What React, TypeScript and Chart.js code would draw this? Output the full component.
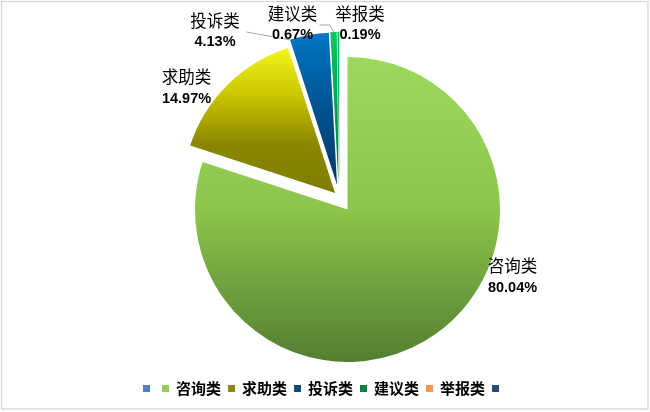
import { useEffect, useRef } from 'react';
import { Chart, registerables } from 'chart.js';

Chart.register(...registerables);

// ---- data ----
const categories = ['', '咨询类', '求助类', '投诉类', '建议类', '举报类', ''];
const shares = [0, 80.04, 14.97, 4.13, 0.67, 0.19, 0];
const shareLabels = ['', '80.04%', '14.97%', '4.13%', '0.67%', '0.19%', ''];

// ---- styles ----
const legendColors = ['#4f81bd', '#92d050', '#8c8a00', '#0f4c87', '#00843f', '#f79646', '#2c4d7a'];
const sliceGradients: string[][] = [
  ['#4f81bd', '#4f81bd'],
  ['#9cd95d', '#8cc54b', '#547e30'],
  ['#f4f41a', '#c9c400', '#8a8600', '#7f7e00'],
  ['#0076c6', '#00538f', '#00386a'],
  ['#14c464', '#00a050', '#006b34'],
  ['#14c464', '#00a050', '#006b34'],
  ['#2c4d7a', '#2c4d7a'],
];
// explosion distance (px) and direction tilt (deg) relative to slice bisector
const explode = [0, 0, 20.7, 26.7, 26.6, 26.6, 0];
const explodeTilt = [0, 0, 8, -12.5, -17.8, -17.8, 0];
// label anchor (centre of first line) relative to pie centre
const labelOffsets: (number[] | null)[] = [null, [165, 56.5], [-161, -132.5], [-132.5, -189], [-55, -196], [12.5, -196], null];
const LINE_GAP = 21.5;

function sectorYRange(cy: number, r: number, a0: number, a1: number) {
  let top = cy, bottom = cy;
  const ys = [cy + r * Math.sin(a0), cy + r * Math.sin(a1)];
  ys.forEach((y) => { top = Math.min(top, y); bottom = Math.max(bottom, y); });
  const within = (a: number) => {
    for (let k = -2; k <= 2; k++) {
      const t = a + k * 2 * Math.PI;
      if (t >= a0 && t <= a1) return true;
    }
    return false;
  };
  if (within(-Math.PI / 2)) top = cy - r;
  if (within(Math.PI / 2)) bottom = cy + r;
  return [top, bottom];
}

function shift(arc: any, i: number) {
  const half = (arc.startAngle + arc.endAngle) / 2 + ((explodeTilt[i] || 0) * Math.PI) / 180;
  const d = explode[i] || 0;
  return [Math.cos(half) * d, Math.sin(half) * d];
}

const piePlugin = {
  id: 'piePlugin',
  beforeDatasetDraw(chart: any, args: any) {
    const ctx = chart.ctx;
    const meta = chart.getDatasetMeta(args.index);
    meta.data.forEach((arc: any, i: number) => {
      const { y, startAngle, endAngle, outerRadius } = arc;
      if (endAngle - startAngle <= 0) return;
      const [top, bottom] = sectorYRange(y, outerRadius, startAngle, endAngle);
      const g = ctx.createLinearGradient(0, top, 0, bottom);
      const cols = sliceGradients[i];
      cols.forEach((c, k) => g.addColorStop(k / (cols.length - 1), c));
      arc.options = Object.assign({}, arc.options, { backgroundColor: g, borderWidth: 0 });
      const [dx, dy] = shift(arc, i);
      ctx.save();
      ctx.translate(dx, dy);
      arc.draw(ctx);
      ctx.restore();
    });
    return false;
  },
  afterDraw(chart: any) {
    const ctx = chart.ctx;
    const meta = chart.getDatasetMeta(0);
    const a0 = meta.data[0];
    const cx = a0.x, cy = a0.y;

    const arcPoint = (i: number, ang: number) => {
      const arc = meta.data[i];
      const [dx, dy] = shift(arc, i);
      return [arc.x + dx + Math.cos(ang) * arc.outerRadius, arc.y + dy + Math.sin(ang) * arc.outerRadius];
    };

    // leader lines
    ctx.save();
    ctx.strokeStyle = '#a6a6a6';
    ctx.lineWidth = 1;
    {
      const p = arcPoint(3, meta.data[3].startAngle);
      ctx.beginPath();
      ctx.moveTo(cx - 101, cy - 177.5);
      ctx.lineTo(p[0], p[1]);
      ctx.stroke();
    }
    {
      const arc = meta.data[4];
      const p = arcPoint(4, (arc.startAngle + arc.endAngle) / 2);
      const sy = cy - 184.5;
      ctx.beginPath();
      ctx.moveTo(cx - 28, sy);
      ctx.lineTo(p[0] - 4, sy);
      ctx.lineTo(p[0], p[1]);
      ctx.stroke();
    }
    ctx.restore();

    // data labels
    ctx.save();
    ctx.textAlign = 'center';
    ctx.textBaseline = 'middle';
    ctx.fillStyle = '#000000';
    categories.forEach((c, i) => {
      const off = labelOffsets[i];
      if (!off || !c) return;
      const lx = cx + off[0];
      const ly = cy + off[1];
      ctx.font = '16.5px "Noto Sans CJK SC"';
      ctx.fillText(c, lx, ly);
      ctx.font = 'bold 14.5px "Liberation Sans"';
      ctx.fillText(shareLabels[i], lx, ly + LINE_GAP);
    });
    ctx.restore();

    // legend
    ctx.save();
    ctx.font = 'bold 15px "Noto Sans CJK SC"';
    ctx.textBaseline = 'middle';
    ctx.textAlign = 'left';
    const box = 7, gap = 7, blankPitch = 19;
    const widths = categories.map((c, i) => {
      if (!c) return i === categories.length - 1 ? box : blankPitch;
      return box + gap + ctx.measureText(c).width + gap;
    });
    const total = widths.reduce((a, b) => a + b, 0);
    let lx = 321 - total / 2;
    const legendY = 388.5;
    categories.forEach((c, i) => {
      ctx.fillStyle = legendColors[i];
      ctx.fillRect(Math.round(lx), Math.round(legendY - 3.5), box, box);
      if (c) {
        ctx.fillStyle = '#000000';
        ctx.fillText(c, lx + box + gap, legendY);
      }
      lx += widths[i];
    });
    ctx.restore();

    // outer frame
    ctx.save();
    ctx.strokeStyle = '#d4d4d4';
    ctx.lineWidth = 1.2;
    ctx.strokeRect(1.5, 1.5, 646.5, 407.5);
    ctx.restore();
  },
};

export default function App() {
  const ref = useRef<HTMLCanvasElement | null>(null);
  useEffect(() => {
    if (!ref.current) return;
    const chart = new Chart(ref.current, {
      type: 'pie',
      data: {
        labels: categories,
        datasets: [
          {
            data: shares,
            backgroundColor: (c: any) => legendColors[c.dataIndex],
            borderWidth: 0,
            offset: 0,
            hoverOffset: 0,
          },
        ],
      },
      options: {
        responsive: false,
        animation: false,
        events: [],
        layout: { padding: { top: 57, bottom: 50, left: 60, right: 15 } },
        plugins: {
          legend: { display: false },
          tooltip: { enabled: false },
        },
      },
      plugins: [piePlugin],
    });
    return () => chart.destroy();
  }, []);
  return (
    <div style={{ position: 'absolute', left: 0, top: 0, width: 650, height: 412, background: '#ffffff' }}>
      <canvas ref={ref} width={650} height={412} style={{ width: 650, height: 412, display: 'block' }} />
    </div>
  );
}
